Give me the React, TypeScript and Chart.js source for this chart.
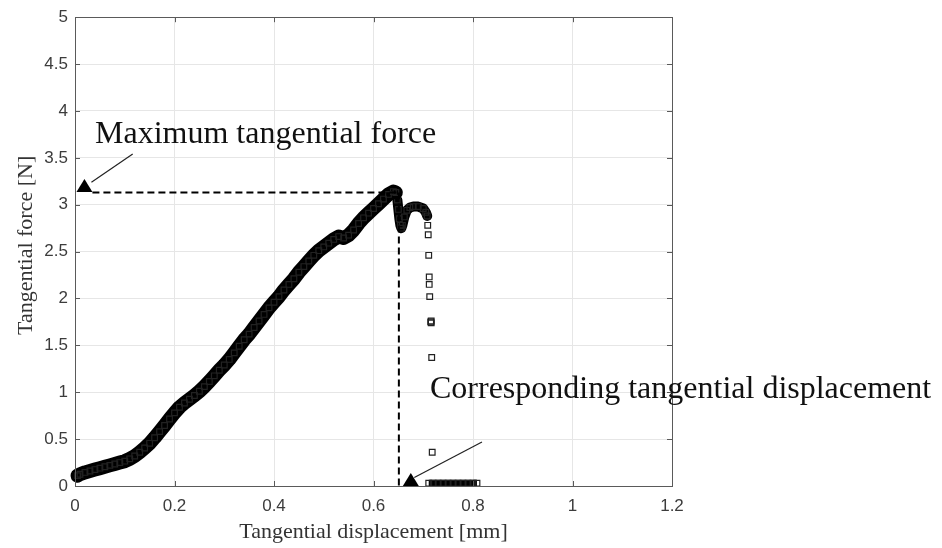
import { useEffect, useRef } from 'react';
import { Chart, registerables } from 'chart.js';

Chart.register(...registerables);

// ---- Data ----
const xTickValues = [0, 0.2, 0.4, 0.6, 0.8, 1, 1.2];
const yTickValues = [0, 0.5, 1, 1.5, 2, 2.5, 3, 3.5, 4, 4.5, 5];

// loading branch up to the maximum
const loadX = [0.005, 0.01, 0.02, 0.03, 0.04, 0.05, 0.06, 0.07, 0.08, 0.09, 0.10, 0.11, 0.12, 0.13, 0.14, 0.15, 0.16, 0.17, 0.18, 0.19, 0.20, 0.21, 0.22, 0.23, 0.24, 0.25, 0.26, 0.27, 0.28, 0.29, 0.30, 0.31, 0.32, 0.33, 0.34, 0.35, 0.36, 0.37, 0.38, 0.39, 0.40, 0.41, 0.42, 0.43, 0.44, 0.45, 0.46, 0.47, 0.48, 0.49, 0.50, 0.51, 0.52, 0.53, 0.54, 0.55, 0.56, 0.57, 0.58, 0.59, 0.60, 0.61, 0.62, 0.63, 0.64, 0.645];
const loadY = [0.11, 0.125, 0.145, 0.16, 0.175, 0.19, 0.205, 0.22, 0.235, 0.25, 0.265, 0.29, 0.32, 0.36, 0.405, 0.455, 0.515, 0.58, 0.645, 0.715, 0.78, 0.84, 0.885, 0.925, 0.965, 1.01, 1.06, 1.115, 1.175, 1.235, 1.29, 1.35, 1.42, 1.49, 1.56, 1.62, 1.69, 1.76, 1.83, 1.90, 1.96, 2.02, 2.09, 2.15, 2.21, 2.28, 2.34, 2.40, 2.46, 2.51, 2.55, 2.59, 2.63, 2.66, 2.645, 2.675, 2.73, 2.80, 2.86, 2.91, 2.96, 3.01, 3.06, 3.11, 3.14, 3.13];

// after the maximum
const postX = [0.648, 0.650, 0.652, 0.654, 0.656, 0.658, 0.662, 0.667, 0.673, 0.680, 0.690, 0.700, 0.705, 0.708];
const postY = [3.05, 2.95, 2.85, 2.78, 2.75, 2.78, 2.87, 2.94, 2.97, 2.98, 2.98, 2.96, 2.92, 2.88];

// sudden drop
const dropX = [0.709, 0.710, 0.711, 0.712, 0.712, 0.713, 0.715, 0.716, 0.716, 0.717, 0.718];
const dropY = [2.78, 2.68, 2.46, 2.23, 2.15, 2.02, 1.75, 1.74, 1.76, 1.37, 0.36];

// sliding at zero force
const slideX = [0.711, 0.72, 0.73, 0.74, 0.75, 0.76, 0.77, 0.78, 0.79, 0.80, 0.808];
const slideY = [0.03, 0.03, 0.03, 0.03, 0.03, 0.03, 0.03, 0.03, 0.03, 0.03, 0.03];

// annotations (data units)
const maxForce = 3.13;
const maxForceDisp = 0.651;
const dashStartX = 0.035;
const markerA = { x: 0.019, y: 3.2 };
const markerB = { x: 0.675, y: 0.064 };
const arrowA = { x0: 0.116, y0: 3.54, x1: 0.033, y1: 3.24 };
const arrowB = { x0: 0.818, y0: 0.47, x1: 0.682, y1: 0.09 };
const labelA = 'Maximum tangential force';
const labelB = 'Corresponding tangential displacement';
const xTitle = 'Tangential displacement [mm]';
const yTitle = 'Tangential force [N]';

const pts = (xs: number[], ys: number[]) => xs.map((x, i) => ({ x, y: ys[i] }));

const SERIF = '"Liberation Serif", "Times New Roman", serif';
const SANS = '"Liberation Sans", Arial, Helvetica, sans-serif';

const overlay = {
  id: 'overlay',
  afterDatasetsDraw(chart: any) {
    const { ctx, chartArea: a, scales } = chart;
    const xs = scales.x, ys = scales.y;
    ctx.save();
    // dashed guides
    ctx.strokeStyle = '#000';
    ctx.lineWidth = 2;
    ctx.setLineDash([7, 4]);
    ctx.beginPath();
    ctx.moveTo(xs.getPixelForValue(dashStartX), ys.getPixelForValue(maxForce));
    ctx.lineTo(xs.getPixelForValue(maxForceDisp), ys.getPixelForValue(maxForce));
    ctx.stroke();
    ctx.beginPath();
    ctx.moveTo(xs.getPixelForValue(maxForceDisp), ys.getPixelForValue(maxForce));
    ctx.lineTo(xs.getPixelForValue(maxForceDisp), ys.getPixelForValue(0));
    ctx.stroke();
    ctx.setLineDash([]);

    // box
    ctx.strokeStyle = '#5a5a5a';
    ctx.lineWidth = 1;
    ctx.strokeRect(Math.round(a.left) + 0.5, Math.round(a.top) + 0.5, Math.round(a.right - a.left), Math.round(a.bottom - a.top));
    // inward ticks
    const tl = 5;
    ctx.beginPath();
    xTickValues.forEach((v) => {
      const px = Math.round(xs.getPixelForValue(v)) + 0.5;
      ctx.moveTo(px, a.bottom); ctx.lineTo(px, a.bottom - tl);
      ctx.moveTo(px, a.top); ctx.lineTo(px, a.top + tl);
    });
    yTickValues.forEach((v) => {
      const py = Math.round(ys.getPixelForValue(v)) + 0.5;
      ctx.moveTo(a.left, py); ctx.lineTo(a.left + tl, py);
      ctx.moveTo(a.right, py); ctx.lineTo(a.right - tl, py);
    });
    ctx.stroke();

    // arrows
    ctx.strokeStyle = '#222';
    ctx.lineWidth = 1.2;
    [arrowA, arrowB].forEach((ar) => {
      ctx.beginPath();
      ctx.moveTo(xs.getPixelForValue(ar.x0), ys.getPixelForValue(ar.y0));
      ctx.lineTo(xs.getPixelForValue(ar.x1), ys.getPixelForValue(ar.y1));
      ctx.stroke();
    });
    // triangle markers
    ctx.fillStyle = '#000';
    [markerA, markerB].forEach((m) => {
      const cx = xs.getPixelForValue(m.x), cy = ys.getPixelForValue(m.y);
      ctx.beginPath();
      ctx.moveTo(cx, cy - 7);
      ctx.lineTo(cx + 8, cy + 6);
      ctx.lineTo(cx - 8, cy + 6);
      ctx.closePath();
      ctx.fill();
    });
    ctx.restore();
  },
  afterDraw(chart: any) {
    const { ctx, chartArea: a } = chart;
    ctx.save();
    ctx.fillStyle = '#111';
    ctx.font = `32px ${SERIF}`;
    ctx.textAlign = 'left';
    ctx.textBaseline = 'alphabetic';
    ctx.fillText(labelA, 95, 143);
    ctx.fillText(labelB, 430, 398);

    ctx.fillStyle = '#333';
    ctx.font = `22px ${SERIF}`;
    ctx.textAlign = 'center';
    ctx.fillText(xTitle, (a.left + a.right) / 2, 538);
    ctx.translate(32, 335);
    ctx.rotate(-Math.PI / 2);
    ctx.textAlign = 'left';
    ctx.fillText(yTitle, 0, 0);
    ctx.restore();
  },
};

export default function App() {
  const ref = useRef<HTMLCanvasElement | null>(null);
  useEffect(() => {
    if (!ref.current) return;
    const squares = {
      pointStyle: 'rect' as const,
      pointRadius: 4,
      pointBorderWidth: 1.2,
      pointBorderColor: '#222',
      pointBackgroundColor: 'rgba(0,0,0,0)',
      borderColor: '#000',
      borderJoinStyle: 'round' as const,
      borderCapStyle: 'round' as const,
      clip: false as const,
    };
    const chart = new Chart(ref.current, {
      type: 'scatter',
      data: {
        datasets: [
          { ...squares, data: pts(loadX, loadY), showLine: true, borderWidth: 14 },
          { ...squares, data: pts(postX, postY), showLine: true, borderWidth: 10 },
          { ...squares, data: pts(dropX, dropY), showLine: false },
          { ...squares, data: pts(slideX, slideY), showLine: true, borderWidth: 7, borderCapStyle: 'butt' as const },
        ],
      },
      options: {
        responsive: false,
        animation: false,
        devicePixelRatio: 1,
        layout: { padding: { left: 0, right: 270, top: 14, bottom: 0 } },
        plugins: { legend: { display: false }, tooltip: { enabled: false } },
        scales: {
          x: {
            type: 'linear',
            min: 0,
            max: 1.2,
            afterFit: (s: any) => { s.height = 62; },
            afterBuildTicks: (s: any) => { s.ticks = xTickValues.map((v) => ({ value: v })); },
            ticks: {
              padding: 10,
              color: '#3c3c3c',
              font: { family: SANS, size: 17 },
              callback: (v: any) => String(Math.round(Number(v) * 10) / 10),
            },
            grid: { color: '#e6e6e6', drawTicks: false },
            border: { display: false },
          },
          y: {
            type: 'linear',
            min: 0,
            max: 5,
            afterFit: (s: any) => { s.width = 75; },
            afterBuildTicks: (s: any) => { s.ticks = yTickValues.map((v) => ({ value: v })); },
            ticks: {
              padding: 7,
              color: '#3c3c3c',
              font: { family: SANS, size: 17 },
              callback: (v: any) => String(Math.round(Number(v) * 10) / 10),
            },
            grid: { color: '#e6e6e6', drawTicks: false },
            border: { display: false },
          },
        },
      },
      plugins: [overlay],
    });
    return () => chart.destroy();
  }, []);
  return (
    <canvas
      ref={ref}
      width={942}
      height={548}
      style={{ position: 'fixed', left: 0, top: 0, width: 942, height: 548, background: '#fff' }}
    />
  );
}
